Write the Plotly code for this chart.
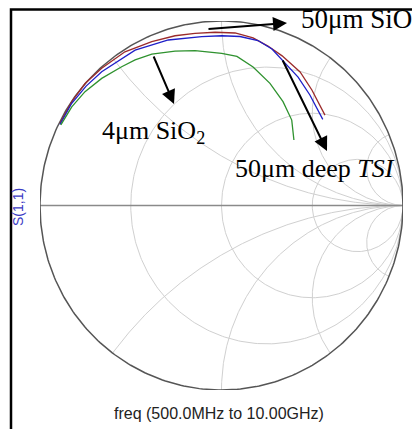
import numpy as np
import plotly.graph_objects as go

red_re = [-0.890, -0.825, -0.752, -0.660, -0.532, -0.384, -0.256, -0.146, -0.035, 0.075, 0.174, 0.256, 0.334, 0.433, 0.498, 0.543, 0.570]
red_im = [0.445, 0.563, 0.661, 0.744, 0.833, 0.888, 0.920, 0.933, 0.939, 0.935, 0.908, 0.864, 0.811, 0.724, 0.626, 0.545, 0.490]

blue_re = [-0.890, -0.825, -0.746, -0.660, -0.476, -0.293, -0.109, 0.001, 0.102, 0.201, 0.278, 0.334, 0.422, 0.487, 0.532, 0.558]
blue_im = [0.439, 0.554, 0.647, 0.725, 0.842, 0.897, 0.915, 0.920, 0.916, 0.894, 0.848, 0.789, 0.696, 0.599, 0.517, 0.467]

green_re = [-0.885, -0.825, -0.752, -0.660, -0.550, -0.476, -0.384, -0.256, -0.146, 0.001, 0.085, 0.174, 0.267, 0.339, 0.387, 0.399]
green_im = [0.437, 0.535, 0.617, 0.689, 0.752, 0.789, 0.820, 0.837, 0.839, 0.825, 0.808, 0.751, 0.662, 0.563, 0.463, 0.355]

# Smith chart grid values (normalized resistance circles, reactance arcs)
r_grid = [1 / 3, 1, 3]
x_grid = [0.5, 1, 2, 5]

# Annotation texts
label_top = "50μm SiO<sub>2</sub>"
label_mid = "4μm SiO<sub>2</sub>"
label_tsi = "50μm deep <i>TSI</i>"
ylabel = "S(1,1)"
xlabel = "freq (500.0MHz to 10.00GHz)"

W, H = 412, 429


def px(x):
    return x / W


def py(y):
    return 1 - y / H


fig = go.Figure()

GRID = dict(color="#d0d0d0", width=1)
# constant-resistance circles
t = np.linspace(0, 2 * np.pi, 361)
for r in r_grid:
    c, rad = r / (1 + r), 1 / (1 + r)
    fig.add_trace(go.Scatter(x=c + rad * np.cos(t), y=rad * np.sin(t), mode="lines",
                             line=GRID, hoverinfo="skip"))
# constant-reactance arcs (inside the unit circle)
for xv in x_grid:
    ex, ey = (xv ** 2 - 1) / (xv ** 2 + 1), 2 * xv / (xv ** 2 + 1)
    th_end = np.arctan2(ey - 1 / xv, ex - 1)
    if th_end > -np.pi / 2:
        th_end -= 2 * np.pi
    th = np.linspace(-np.pi / 2, th_end, 240)
    ax_ = 1 + np.cos(th) / xv
    ay_ = 1 / xv + np.sin(th) / xv
    for s in (1, -1):
        fig.add_trace(go.Scatter(x=ax_, y=s * ay_, mode="lines", line=GRID, hoverinfo="skip"))
# real axis and outer circle
fig.add_trace(go.Scatter(x=[-1, 1], y=[0, 0], mode="lines",
                         line=dict(color="#8a8a8a", width=1.5), hoverinfo="skip"))
fig.add_trace(go.Scatter(x=np.cos(t), y=np.sin(t), mode="lines",
                         line=dict(color="#555555", width=1.5), hoverinfo="skip"))

for re, im, col in [(red_re, red_im, "#9b2b2b"), (blue_re, blue_im, "#1f1fc8"), (green_re, green_im, "#2f922f")]:
    fig.add_trace(go.Scatter(x=re, y=im, mode="lines",
                             line=dict(color=col, width=1.3), hoverinfo="skip"))

fig.update_layout(
    width=W, height=H,
    margin=dict(l=0, r=0, t=0, b=0),
    paper_bgcolor="white", plot_bgcolor="white",
    showlegend=False,
    xaxis=dict(visible=False, range=[-1, 1], domain=[px(40), px(403)], fixedrange=True),
    yaxis=dict(visible=False, range=[-1, 1], domain=[py(390), py(21)], fixedrange=True),
)

serif = dict(family="Liberation Serif", size=26, color="black")
fig.add_annotation(x=px(299), y=py(21), xref="paper", yref="paper", text=label_top,
                   showarrow=False, xanchor="left", yanchor="middle",
                   font=dict(family="Liberation Serif", size=27, color="black"))
fig.add_annotation(x=px(100), y=py(132), xref="paper", yref="paper", text=label_mid,
                   showarrow=False, xanchor="left", yanchor="middle", font=serif)
fig.add_annotation(x=px(233), y=py(168.5), xref="paper", yref="paper", text=label_tsi,
                   showarrow=False, xanchor="left", yanchor="middle", font=serif)

# arrows (head at x,y; tail offset ax, ay in pixels)
for hx, hy, tx, ty in [(287, 23, 207, 29), (174, 104, 153, 55), (327, 151, 282, 59)]:
    fig.add_annotation(x=px(hx), y=py(hy), xref="paper", yref="paper", text="",
                       showarrow=True, ax=tx - hx, ay=ty - hy, arrowhead=2,
                       arrowsize=1.4, arrowwidth=2, arrowcolor="black", standoff=0)

fig.add_annotation(x=px(17.5), y=py(207.5), xref="paper", yref="paper", text=ylabel,
                   showarrow=False, textangle=-90, xanchor="center", yanchor="middle",
                   font=dict(family="Liberation Sans", size=14, color="#3b3bc4"))
fig.add_annotation(x=px(219), y=py(413.5), xref="paper", yref="paper", text=xlabel,
                   showarrow=False, xanchor="center", yanchor="middle",
                   font=dict(family="Liberation Sans", size=16, color="#222222"))

fig.add_shape(type="rect", xref="paper", yref="paper",
              x0=px(11), x1=1.05, y0=-0.05, y1=py(9.5),
              line=dict(color="black", width=2.5), fillcolor="rgba(0,0,0,0)")

fig.write_html("out.html", config=dict(displayModeBar=False, staticPlot=True),
               post_script="document.body.style.margin='0';document.body.style.overflow='hidden';")
